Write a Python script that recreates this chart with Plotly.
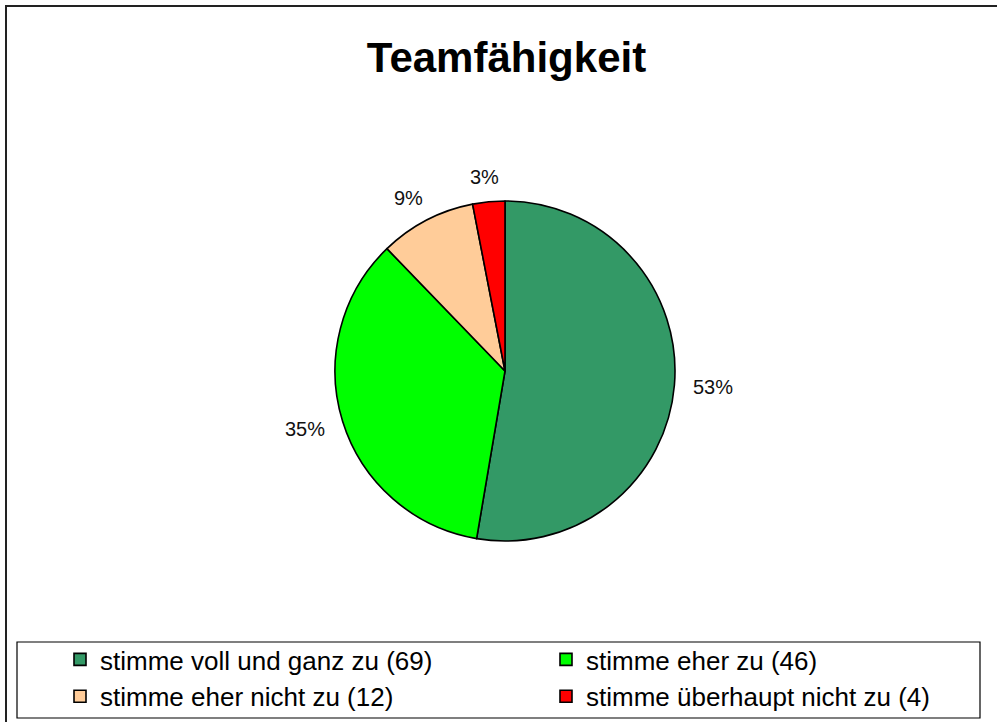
import math
import plotly.graph_objects as go

# Data
categories = ["stimme voll und ganz zu (69)", "stimme eher zu (46)",
              "stimme eher nicht zu (12)", "stimme überhaupt nicht zu (4)"]
values = [69, 46, 12, 4]
colors = ["#339966", "#00FF00", "#FFCC99", "#FF0000"]
title_text = "Teamfähigkeit"

W, H = 997, 722
cx, cy, R = 505, 371, 170

fig = go.Figure(go.Pie(
    labels=categories,
    values=values,
    marker=dict(colors=colors, line=dict(color="black", width=1.6)),
    sort=False,
    direction="clockwise",
    rotation=0,
    textinfo="none",
    hoverinfo="label+percent",
    domain=dict(x=[(cx - R) / W, (cx + R) / W], y=[1 - (cy + R) / H, 1 - (cy - R) / H]),
))

# Percentage labels outside the slices, placed from the data
total = sum(values)
cum = 0
annotations = []
for v in values:
    mid = (cum + v / 2) / total * 2 * math.pi
    cum += v
    lx = cx + 209 * math.sin(mid)
    ly = cy - 195 * math.cos(mid)
    annotations.append(dict(
        x=lx / W, y=1 - ly / H, xref="paper", yref="paper",
        text=f"{round(v / total * 100)}%", showarrow=False,
        xanchor="center", yanchor="middle",
        font=dict(family="Liberation Sans, Arial", size=20, color="#111"),
    ))

shapes = [
    # outer chart frame
    dict(type="rect", xref="paper", yref="paper",
         x0=6 / W, x1=1.02, y0=-0.02, y1=1 - 6 / H,
         line=dict(color="#222", width=2), fillcolor="rgba(0,0,0,0)"),
    # legend box
    dict(type="rect", xref="paper", yref="paper",
         x0=17 / W, x1=980 / W, y0=1 - 718 / H, y1=1 - 642 / H,
         line=dict(color="black", width=1.2), fillcolor="rgba(0,0,0,0)"),
]

fig.update_layout(
    width=W, height=H,
    margin=dict(l=0, r=0, t=0, b=0),
    paper_bgcolor="white",
    plot_bgcolor="white",
    title=dict(text=f"<b>{title_text}</b>", x=506.5 / W, xanchor="center",
               y=1 - 57 / H, yanchor="middle",
               font=dict(family="Liberation Sans, Arial", size=42, color="black")),
    showlegend=True,
    legend=dict(
        orientation="h",
        x=22 / W, xanchor="left",
        y=1 - 636 / H, yanchor="top",
        indentation=38,
        entrywidth=403, entrywidthmode="pixels",
        font=dict(family="Liberation Sans, Arial", size=26, color="black"),
        bgcolor="rgba(0,0,0,0)", borderwidth=0,
        traceorder="normal",
    ),
    annotations=annotations,
    shapes=shapes,
)

fig.write_html(
    "out.html",
    config={"displayModeBar": False},
    post_script="document.body.style.margin='0';document.body.style.padding='0';"
                "document.body.style.overflow='hidden';",
)
